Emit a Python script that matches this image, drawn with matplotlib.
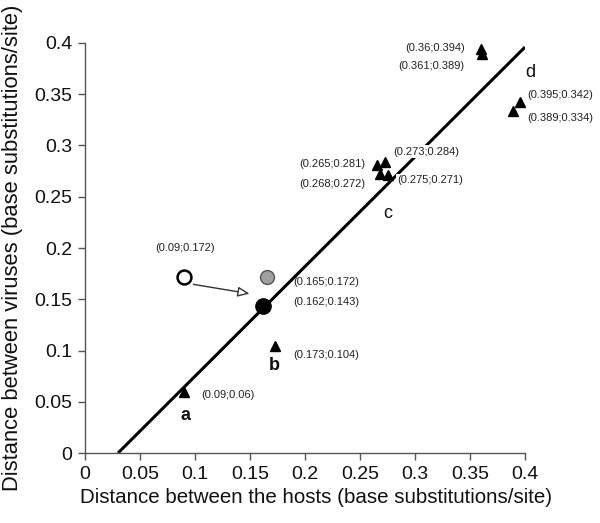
import matplotlib
matplotlib.use("Agg")
import matplotlib.pyplot as plt

plt.rcParams["font.family"] = ["Liberation Sans", "DejaVu Sans"]

# Data
tri_x = [0.09, 0.173, 0.265, 0.273, 0.268, 0.275, 0.36, 0.361, 0.395, 0.389]
tri_y = [0.06, 0.104, 0.281, 0.284, 0.272, 0.271, 0.394, 0.389, 0.342, 0.334]
open_pt = (0.09, 0.172)
black_pt = (0.162, 0.143)
gray_pt = (0.165, 0.172)
line_x = [0.03, 0.4]
line_y = [0.0, 0.396]

labels = [
    ("(0.36;0.394)", 0.345, 0.395, "right", False),
    ("(0.361;0.389)", 0.345, 0.378, "right", False),
    ("(0.395;0.342)", 0.402, 0.349, "left", False),
    ("(0.389;0.334)", 0.402, 0.327, "left", False),
    ("(0.273;0.284)", 0.280, 0.294, "left", True),
    ("(0.265;0.281)", 0.255, 0.282, "right", False),
    ("(0.268;0.272)", 0.255, 0.262, "right", False),
    ("(0.275;0.271)", 0.284, 0.266, "left", True),
    ("(0.09;0.172)", 0.091, 0.200, "center", False),
    ("(0.165;0.172)", 0.189, 0.167, "left", False),
    ("(0.162;0.143)", 0.189, 0.147, "left", False),
    ("(0.173;0.104)", 0.189, 0.096, "left", False),
    ("(0.09;0.06)", 0.106, 0.057, "left", False),
]
letters = [("a", 0.091, 0.037), ("b", 0.172, 0.085), ("c", 0.275, 0.234), ("d", 0.405, 0.371)]

fig = plt.figure(figsize=(6.0, 5.23), dpi=100)
ax = fig.add_axes([0.1417, 0.1338, 0.7333, 0.784])

ax.plot(line_x, line_y, color="black", lw=2.2, zorder=2, solid_capstyle="butt")
ax.plot(tri_x, tri_y, linestyle="none", marker="^", color="black", ms=7, zorder=4)
ax.plot(*open_pt, marker="o", mfc="white", mec="black", mew=1.8, ms=10, zorder=4)
ax.plot(*black_pt, marker="o", mfc="black", mec="black", ms=11, zorder=4)
ax.plot(*gray_pt, marker="o", mfc="#a0a0a0", mec="#555555", mew=1.0, ms=10, zorder=4)

ax.annotate("", xy=(0.152, 0.155), xytext=(0.096, 0.165),
            arrowprops=dict(arrowstyle="-|>,head_length=0.7,head_width=0.3",
                            fc="white", ec="#333333", lw=1.0), zorder=3)

for txt, x, y, ha, box in labels:
    kw = {}
    if box:
        kw["bbox"] = dict(boxstyle="square,pad=0.15", fc="white", ec="none")
    ax.text(x, y, txt, ha=ha, va="center", fontsize=8, color="#222222", zorder=3, **kw)

for txt, x, y in letters:
    ax.text(x, y, txt, ha="center", va="center", fontsize=13,
            fontweight="bold" if txt in "ab" else "normal", color="#111111")

ax.set_xlim(0, 0.4)
ax.set_ylim(0, 0.4)
xt = [0, 0.05, 0.1, 0.15, 0.2, 0.25, 0.3, 0.35, 0.4]
ax.set_xticks(xt)
ax.set_xticklabels(["0", "0.05", "0.1", "0.15", "0.2", "0.25", "0.3", "0.35", "0.4"])
ax.set_yticks(xt)
ax.set_yticklabels(["0", "0.05", "0.1", "0.15", "0.2", "0.25", "0.3", "0.35", "0.4"])
for s in ["top", "right"]:
    ax.spines[s].set_visible(False)
for s in ["left", "bottom"]:
    ax.spines[s].set_color("#555555")
    ax.spines[s].set_linewidth(1.0)
ax.tick_params(direction="out", length=5, width=1, color="#555555",
               labelsize=14, labelcolor="#111111", pad=4)
ax.set_xlabel("Distance between the hosts (base substitutions/site)", fontsize=14.8, color="#111111")
ax.xaxis.set_label_coords(0.525, -0.085)
ax.set_ylabel("Distance between viruses (base substitutions/site)", fontsize=15.8,
              labelpad=8, color="#111111")

fig.savefig("out.png", dpi=100)
